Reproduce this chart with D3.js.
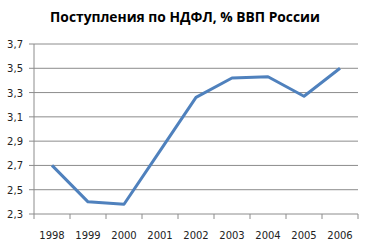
<!DOCTYPE html>
<html>
<head>
<meta charset="utf-8">
<script src="https://cdn.jsdelivr.net/npm/d3@7"></script>
<style>
  body { margin: 0; background: #fff; }
  text { font-family: "DejaVu Sans", sans-serif; }
</style>
</head>
<body>
<script>
const years = ["1998", "1999", "2000", "2001", "2002", "2003", "2004", "2005", "2006"];
const ndfl = [2.70, 2.40, 2.38, 2.82, 3.26, 3.42, 3.43, 3.27, 3.50];
const yTicks = [2.3, 2.5, 2.7, 2.9, 3.1, 3.3, 3.5, 3.7];

const width = 372, height = 247;
const margin = {top: 44, right: 14, bottom: 33, left: 34};
const w = width - margin.left - margin.right;
const h = height - margin.top - margin.bottom;

const svg = d3.select('body').append('svg')
  .attr('width', width)
  .attr('height', height);

// title
svg.append('text')
  .attr('x', 185)
  .attr('y', 22)
  .attr('text-anchor', 'middle')
  .style('font-family', '"Open Sans", sans-serif')
  .style('font-weight', 'bold')
  .style('font-size', '13.8px')
  .text('Поступления по НДФЛ, % ВВП России');

const g = svg.append('g')
  .attr('transform', 'translate(' + margin.left + ',' + margin.top + ')');

const x = d3.scaleBand().domain(years).range([0, w]);
const y = d3.scaleLinear().domain([2.3, 3.7]).range([h, 0]);
const fmt = d => d3.format('.1f')(d).replace('.', ',');

// gridlines
g.selectAll('.grid')
  .data(yTicks)
  .join('line')
  .attr('x1', -5)
  .attr('x2', w)
  .attr('y1', d => y(d))
  .attr('y2', d => y(d))
  .attr('stroke', '#8c8c8c')
  .attr('stroke-width', 1);

g.selectAll('.ylab')
  .data(yTicks)
  .join('text')
  .attr('x', -11)
  .attr('y', d => y(d) + 4)
  .attr('text-anchor', 'end')
  .style('font-size', '10px')
  .style('fill', '#222')
  .text(fmt);

// y axis line
g.append('line')
  .attr('x1', 0).attr('x2', 0)
  .attr('y1', 0).attr('y2', h)
  .attr('stroke', '#8c8c8c');

// x tick marks at category boundaries
const bounds = years.map(d => x(d)).concat([w]);
g.selectAll('.xtick')
  .data(bounds)
  .join('line')
  .attr('x1', d => d).attr('x2', d => d)
  .attr('y1', h).attr('y2', h + 5)
  .attr('stroke', '#8c8c8c');

g.selectAll('.xlab')
  .data(years)
  .join('text')
  .attr('x', d => x(d) + x.bandwidth() / 2)
  .attr('y', h + 25)
  .attr('text-anchor', 'middle')
  .style('font-size', '10px')
  .style('fill', '#222')
  .text(d => d);

// the series line
const line = d3.line()
  .x((d, i) => x(years[i]) + x.bandwidth() / 2)
  .y(d => y(d));

g.append('path')
  .datum(ndfl)
  .attr('d', line)
  .attr('fill', 'none')
  .attr('stroke', '#4f81bd')
  .attr('stroke-width', 3)
  .attr('stroke-linejoin', 'round');
</script>
</body>
</html>
